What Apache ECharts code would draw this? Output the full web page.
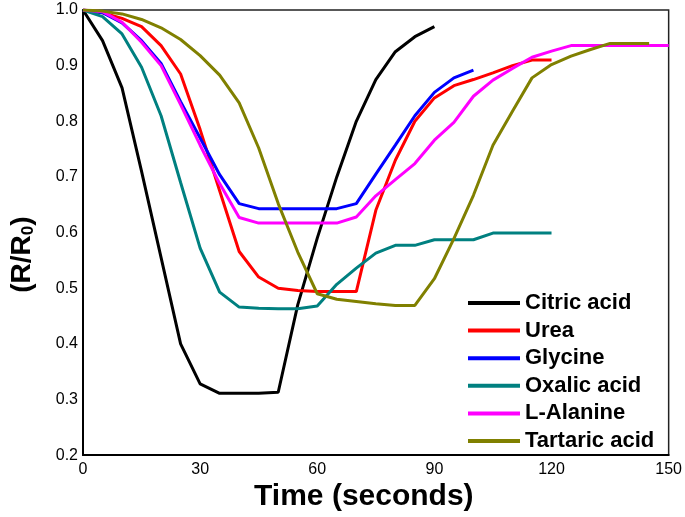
<!DOCTYPE html>
<html>
<head>
<meta charset="utf-8">
<script src="https://cdn.jsdelivr.net/npm/echarts@6/dist/echarts.min.js"></script>
<style>
html,body{margin:0;padding:0;background:#fff;}
#chart{width:685px;height:517px;}
</style>
</head>
<body>
<div id="chart"></div>
<script>
var times = [0,5,10,15,20,25,30,35,40,45,50,55,60,65,70,75,80,85,90,95,100,105,110,115,120,125,130,135,140,145,150];
var seriesNames = ['Citric acid','Urea','Glycine','Oxalic acid','L-Alanine','Tartaric acid'];
var xTicks = [0,30,60,90,120,150];
var yTicks = [0.2,0.3,0.4,0.5,0.6,0.7,0.8,0.9,1.0];

var citric = [1.0,0.945,0.86,0.71,0.555,0.40,0.328,0.311,0.311,0.311,0.313,0.47,0.59,0.70,0.80,0.875,0.925,0.952,0.97];
var urea = [1.0,0.995,0.985,0.97,0.936,0.885,0.785,0.675,0.566,0.52,0.50,0.496,0.494,0.494,0.494,0.64,0.73,0.80,0.842,0.864,0.875,0.887,0.90,0.91,0.91];
var glycine = [1.0,0.995,0.977,0.945,0.904,0.835,0.77,0.704,0.652,0.643,0.643,0.643,0.643,0.643,0.652,0.705,0.757,0.81,0.852,0.878,0.892];
var oxalic = [1.0,0.988,0.957,0.897,0.81,0.69,0.572,0.493,0.466,0.464,0.463,0.463,0.468,0.507,0.536,0.563,0.577,0.577,0.587,0.587,0.587,0.599,0.599,0.599,0.599];
var alanine = [1.0,0.997,0.978,0.942,0.90,0.83,0.757,0.688,0.627,0.617,0.617,0.617,0.617,0.617,0.628,0.666,0.695,0.724,0.766,0.798,0.845,0.874,0.895,0.915,0.926,0.936,0.936,0.936,0.936,0.936,0.936];
var tartaric = [1.0,0.998,0.993,0.983,0.968,0.947,0.918,0.883,0.833,0.752,0.652,0.565,0.49,0.48,0.476,0.472,0.469,0.469,0.517,0.589,0.667,0.757,0.818,0.878,0.902,0.917,0.929,0.94,0.94,0.94];

var colors = ['#000000','#ff0000','#0000ff','#008080','#ff00ff','#808000'];
var allValues = [citric, urea, glycine, oxalic, alanine, tartaric];

function pairs(vals){ return vals.map(function(v,i){ return [times[i], v]; }); }

var FONT = '"Liberation Sans", Arial, sans-serif';
var chart = echarts.init(document.getElementById('chart'), null, {renderer:'canvas'});
chart.setOption({
  backgroundColor: '#ffffff',
  animation: false,
  color: colors,
  grid: {left:83, right:15, top:10, bottom:53, show:true, borderColor:'#222', borderWidth:1.5, backgroundColor:'transparent'},
  xAxis: {
    type:'value', min:0, max:150, interval:30,
    name:'Time (seconds)', nameLocation:'middle', nameGap:24,
    nameTextStyle:{fontFamily:FONT, fontWeight:'bold', fontSize:30, color:'#000', padding:[0,24,0,0]},
    axisLine:{show:true, lineStyle:{color:'#000', width:2}},
    axisTick:{show:false}, splitLine:{show:false},
    axisLabel:{fontFamily:FONT, fontSize:16, color:'#000', margin:6,
      formatter:function(v){ return xTicks.indexOf(v) >= 0 ? String(v) : ''; }}
  },
  yAxis: {
    type:'value', min:0.2, max:1.0, interval:0.1,
    name:'{a|(R/R}{b|0}{a|)}', nameLocation:'middle', nameGap:46, nameRotate:90,
    nameTextStyle:{fontFamily:FONT, padding:[0,44,0,0], rich:{
      a:{fontFamily:FONT, fontWeight:'bold', fontSize:28, lineHeight:30, color:'#000'},
      b:{fontFamily:FONT, fontWeight:'bold', fontSize:17, lineHeight:12, verticalAlign:'bottom', color:'#000'}
    }},
    axisLine:{show:true, lineStyle:{color:'#000', width:2}},
    axisTick:{show:false}, splitLine:{show:false},
    axisLabel:{fontFamily:FONT, fontSize:16, color:'#000', margin:5,
      formatter:function(v){ var r = Math.round(v*10)/10; return yTicks.indexOf(r) >= 0 ? r.toFixed(1) : ''; }}
  },
  legend: {
    orient:'vertical', left:463, top:287, itemWidth:52, itemHeight:4, itemGap:5.6,
    icon:'rect',
    textStyle:{fontFamily:FONT, fontWeight:'bold', fontSize:22, lineHeight:21, color:'#000'},
    data: seriesNames
  },
  series: seriesNames.map(function(n, i){
    return {
      name:n, type:'line', data:pairs(allValues[i]), showSymbol:false, symbol:'none',
      lineStyle:{width:3, color:colors[i]}, itemStyle:{color:colors[i]}, z: 2+i
    };
  })
});
</script>
</body>
</html>
